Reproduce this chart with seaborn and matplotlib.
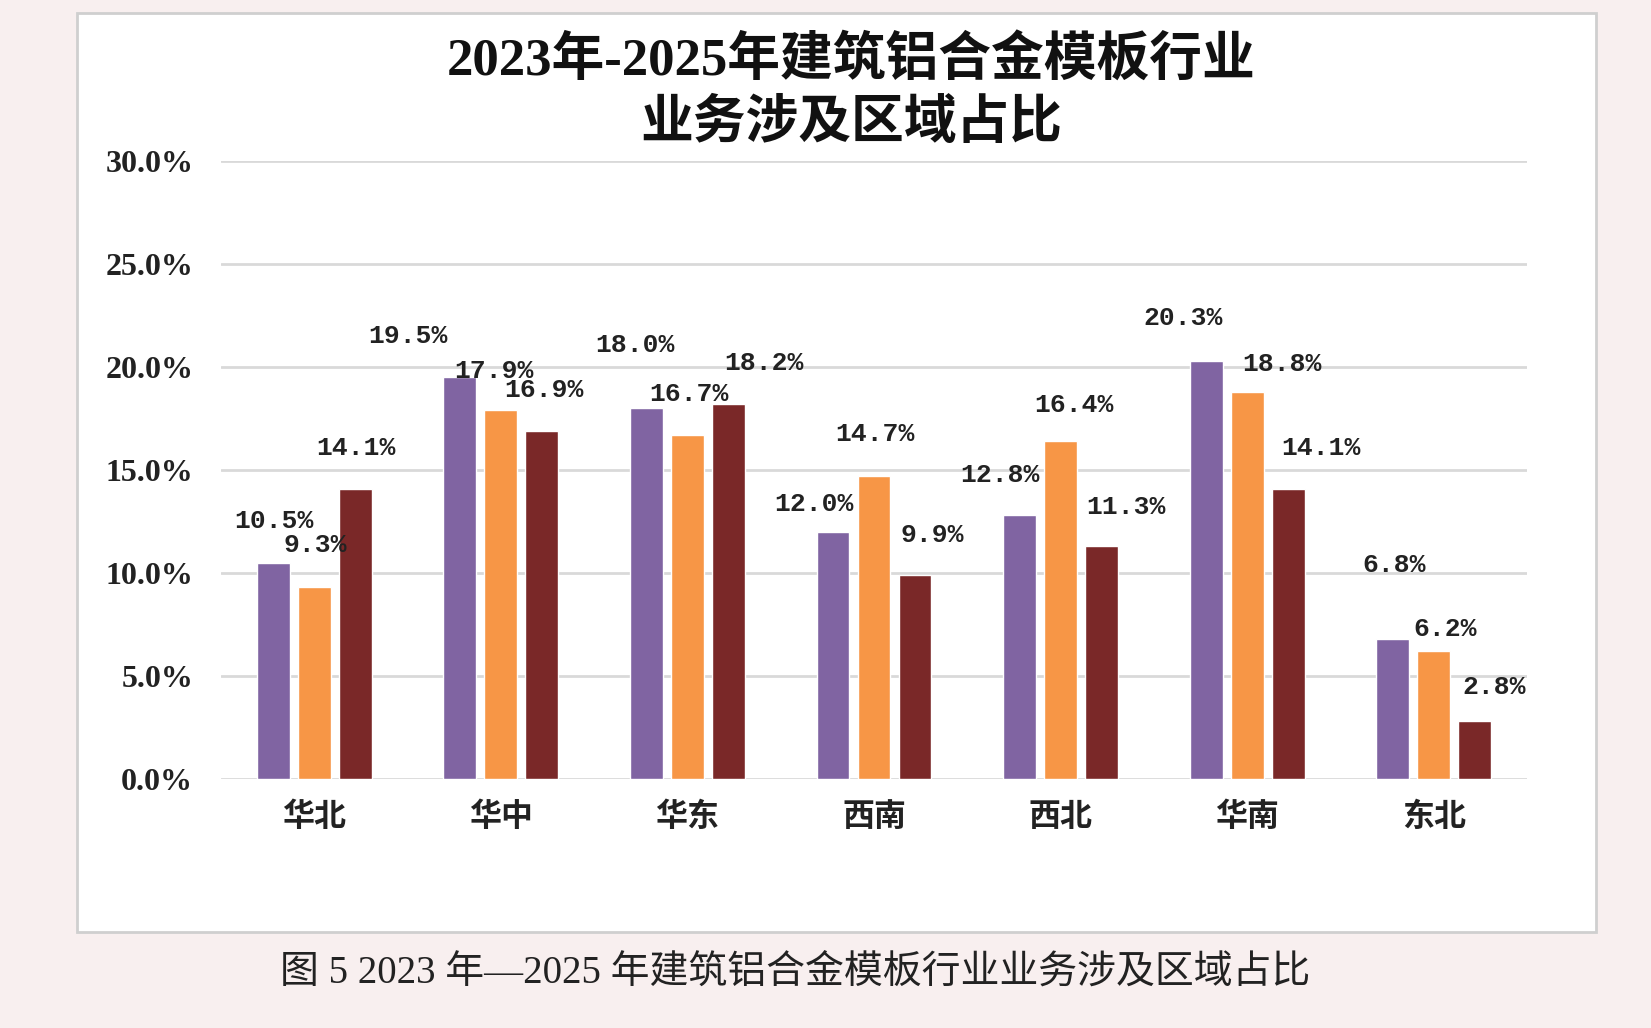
import matplotlib
matplotlib.use("Agg")
import matplotlib.pyplot as plt
import matplotlib.patches as patches
import pandas as pd
import seaborn as sns

# Data (percent)
regions = ["华北", "华中", "华东", "西南", "西北", "华南", "东北"]
years = ["2023年", "2024年", "2025年"]
share_2023 = [10.5, 19.5, 18.0, 12.0, 12.8, 20.3, 6.8]
share_2024 = [9.3, 17.9, 16.7, 14.7, 16.4, 18.8, 6.2]
share_2025 = [14.1, 16.9, 18.2, 9.9, 11.3, 14.1, 2.8]
y_ticks = [0, 5, 10, 15, 20, 25, 30]

# label placement (pixels from top centre of each bar), per series
label_offsets = [
    [(1, 42), (-52, 41), (-11, 63), (-19, 28), (-20, 40), (-23, 43), (1, 74)],
    [(1, 42), (-7, 39), (2, 41), (1, 42), (13, 36), (35, 28), (11, 22)],
    [(1, 41), (2, 41), (35, 41), (17, 40), (24, 39), (33, 41), (19, 34)],
]

colors = ["#8064A2", "#F79646", "#7A2828"]

df = pd.DataFrame({
    "region": regions * 3,
    "year": [y for y in years for _ in regions],
    "share": share_2023 + share_2024 + share_2025,
})

sns.set_style("white")
plt.rcParams["font.family"] = ["Liberation Serif", "Noto Sans CJK SC"]

W, H = 1651, 1028
fig = plt.figure(figsize=(W / 100, H / 100), dpi=100, facecolor="#f8efef")

# white chart box with grey frame
fig.add_artist(patches.Rectangle((77 / W, 1 - 932 / H), (1596 - 77) / W, (932 - 13) / H,
                                 transform=fig.transFigure, facecolor="white",
                                 edgecolor="#cfcfcf", lw=2, zorder=0))

ax = fig.add_axes([221 / W, 1 - 779 / H, (1527 - 221) / W, (779 - 161) / H])
ax.set_facecolor("none")

sns.barplot(data=df, x="region", y="share", hue="year", palette=colors,
            saturation=1, width=0.66, gap=0.2, legend=False, ax=ax, zorder=3)

ax.set_ylim(0, 30)
ax.set_xlim(-0.5, len(regions) - 0.5)
ax.set_yticks(y_ticks)
ax.set_yticklabels([f"{v:.1f}%" for v in y_ticks], fontsize=23, fontweight="bold",
                   color="#222222")
ax.set_xticks(range(len(regions)))
ax.set_xticklabels(regions, fontsize=23, fontweight="bold", color="#222222",
                   family="Noto Sans CJK SC")
ax.tick_params(axis="y", length=0, pad=20)
ax.tick_params(axis="x", length=0, pad=16)
ax.set_xlabel("")
ax.set_ylabel("")
ax.grid(axis="y", color="#d9d9d9", lw=2, zorder=0)
for s in ax.spines.values():
    s.set_visible(False)

# data labels
for cont, offs in zip(ax.containers, label_offsets):
    for bar, (dx, dy) in zip(cont, offs):
        h = bar.get_height()
        ax.annotate(f"{h:.1f}%", (bar.get_x() + bar.get_width() / 2, h),
                    xytext=(dx, dy), textcoords="offset pixels",
                    ha="center", va="center", fontsize=19, fontweight="bold",
                    family="Liberation Mono", color="#222222", zorder=5)

# title
title_kw = dict(ha="center", va="center", fontsize=38, fontweight="bold",
                color="#111111", family=["Liberation Serif", "Noto Sans CJK SC"])
fig.text(851 / W, 1 - 61 / H, "2023年-2025年建筑铝合金模板行业", **title_kw)
fig.text(851 / W, 1 - 124 / H, "业务涉及区域占比", **title_kw)

# caption under the box
fig.text(795 / W, 1 - 973 / H, "图 5 2023 年—2025 年建筑铝合金模板行业业务涉及区域占比",
         ha="center", va="center", fontsize=28, color="#222222",
         family=["Liberation Serif", "Noto Sans CJK SC"])

fig.savefig("out.png", dpi=100, facecolor=fig.get_facecolor())
